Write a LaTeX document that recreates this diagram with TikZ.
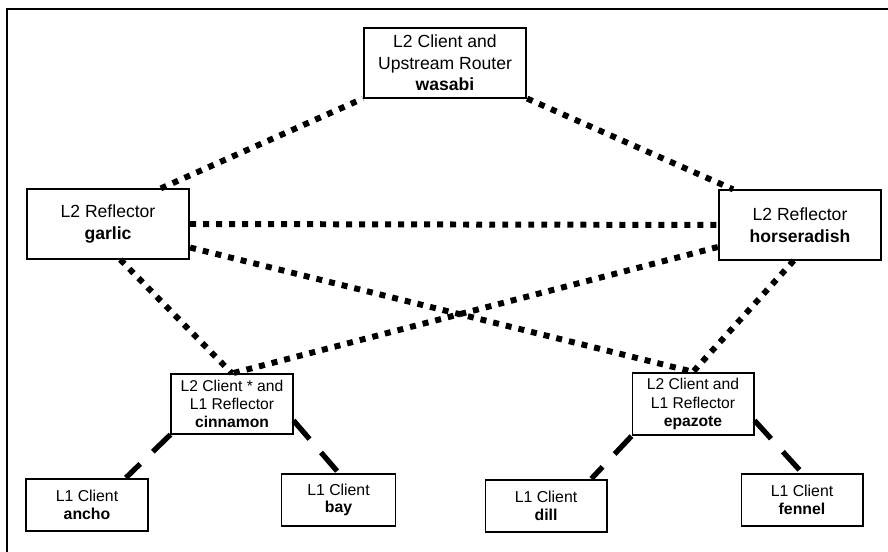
\documentclass[tikz,border=0pt]{standalone}
\usepackage{fontspec}
\setmainfont{Liberation Sans}
\usetikzlibrary{positioning}

\begin{document}
\begin{tikzpicture}[
        bigbox/.style={
            draw,
            line width=1pt,
            minimum width=92.5pt,
            minimum height=39.5pt,
            align=center,
            font=\fontsize{10}{12.3}\selectfont
        },
        midbox/.style={
            draw,
            line width=1pt,
            minimum width=69pt,
            minimum height=32.5pt,
            align=center,
            font=\fontsize{8.9}{10.3}\selectfont
        },
        leafbox/.style={
            draw,
            line width=1pt,
            minimum width=69pt,
            minimum height=30pt,
            align=center,
            font=\fontsize{9}{10}\selectfont
        },
        dotlink/.style={line width=3.4pt, dash pattern=on 3.4pt off 4pt},
        dashlink/.style={line width=3pt, dash pattern=on 14pt off 10pt}
    ]
        \useasboundingbox (0, 0) rectangle (17.76, 11.04);

        % frame
        \draw[line width=1.1pt] (0.14, 0) -- (0.14, 10.86) -- (17.76, 10.86);

        % L2 level
        \node[bigbox] (wasabi) at (8.90, 9.78) {L2 Client and\\Upstream Router\\\textbf{wasabi}};
        \node[bigbox] (garlic) at (2.16, 6.56) {L2 Reflector\\\textbf{garlic}};
        \node[bigbox] (horseradish) at (16.00, 6.54) {L2 Reflector\\\textbf{horseradish}};

        % L1 reflectors
        \node[midbox] (cinnamon) at (4.64, 2.96) {L2 Client * and\\L1 Reflector\\\textbf{cinnamon}};
        \node[midbox] (epazote) at (13.86, 2.96) {L2 Client and\\L1 Reflector\\\textbf{epazote}};

        % L1 clients
        \node[leafbox] (ancho) at (1.74, 0.94) {L1 Client\\\textbf{ancho}};
        \node[leafbox, minimum width=65pt] (bay) at (6.77, 1.04) {L1 Client\\\textbf{bay}};
        \node[leafbox] (dill) at (10.92, 0.92) {L1 Client\\\textbf{dill}};
        \node[leafbox] (fennel) at (16.04, 1.04) {L1 Client\\\textbf{fennel}};

        % L2 mesh
        \draw[dotlink] (garlic.34) -- (wasabi.south west);
        \draw[dotlink] (wasabi.south east) -- (horseradish.152);
        \draw[dotlink] (garlic.east) -- (horseradish.west);
        \draw[dotlink] (garlic.-16) -- (epazote.north);
        \draw[dotlink] (horseradish.195) -- (cinnamon.north);
        \draw[dotlink] (garlic.-71) -- (cinnamon.north);
        \draw[dotlink] (horseradish.-100) -- (epazote.north);

        % L1 links
        \draw[dashlink] (cinnamon.south west) -- (ancho.35);
        \draw[dashlink] (cinnamon.-15) -- (bay.north);
        \draw[dashlink] (epazote.south west) -- (dill.31);
        \draw[dashlink] (epazote.-15) -- (fennel.north);
    \end{tikzpicture}
\end{document}
